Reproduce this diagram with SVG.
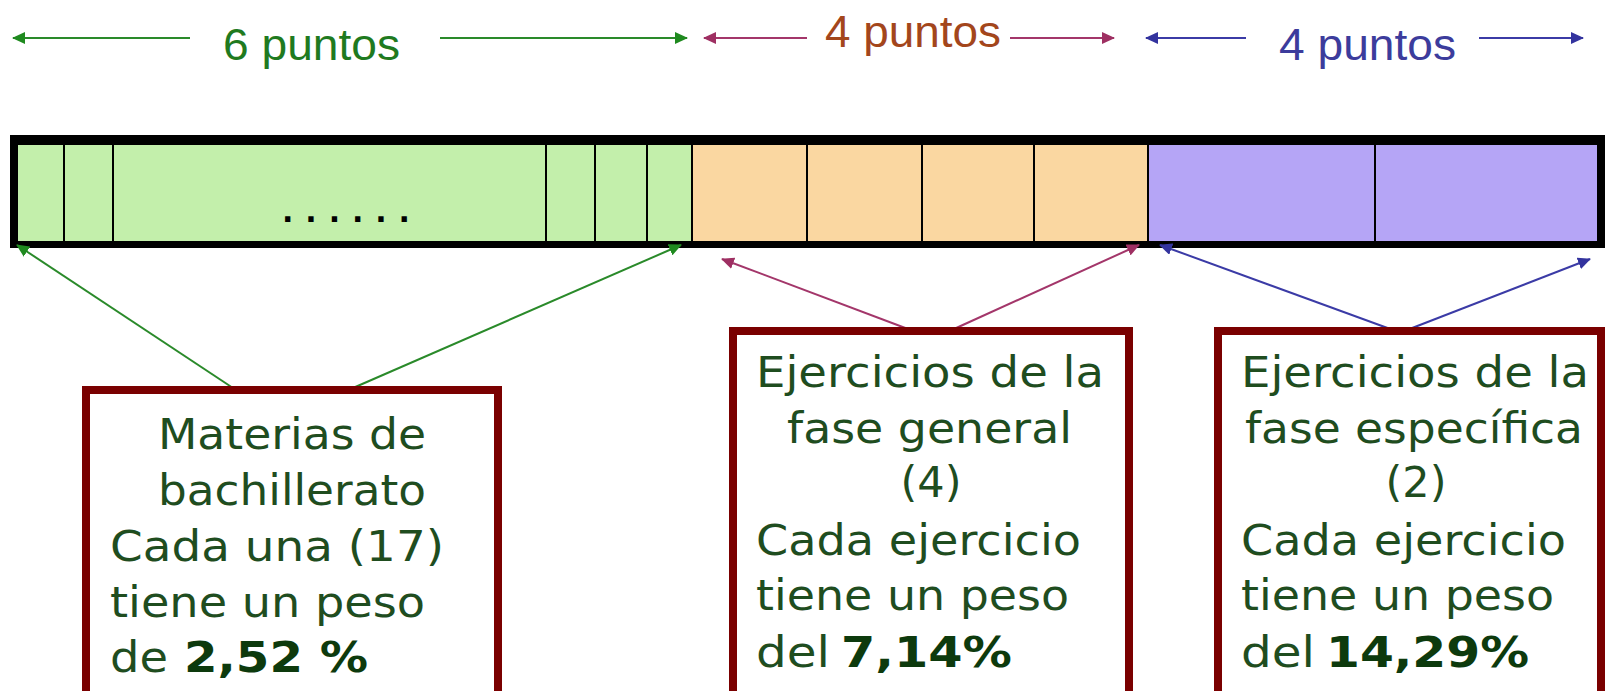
<svg xmlns="http://www.w3.org/2000/svg" width="1605" height="691" viewBox="0 0 1605 691">
<style>
.lbl{font-family:"Liberation Sans",Arial,sans-serif;font-size:45px}
.bx{font-family:"DejaVu Sans",Verdana,sans-serif;font-size:43px;fill:#1f4d1f}
.b{font-weight:bold;fill:#0d3a0d}
.box{fill:#fff;stroke:#7a0000;stroke-width:8}
.div{stroke:#000;stroke-width:2}
.g{stroke:#2a8a2a;stroke-width:2;fill:none}
.m{stroke:#a3366a;stroke-width:2;fill:none}
.bl{stroke:#3b3ba6;stroke-width:2;fill:none}
</style>
<defs>
<marker id="ag" markerUnits="userSpaceOnUse" markerWidth="14" markerHeight="12" refX="12" refY="6" orient="auto-start-reverse"><path d="M0,0 L13,6 L0,12 z" fill="#1f8a1f"/></marker>
<marker id="am" markerUnits="userSpaceOnUse" markerWidth="14" markerHeight="12" refX="12" refY="6" orient="auto-start-reverse"><path d="M0,0 L13,6 L0,12 z" fill="#9e2f62"/></marker>
<marker id="ab" markerUnits="userSpaceOnUse" markerWidth="14" markerHeight="12" refX="12" refY="6" orient="auto-start-reverse"><path d="M0,0 L13,6 L0,12 z" fill="#33339e"/></marker>
</defs>
<rect width="1605" height="691" fill="#fff"/>

<g id="bar">
<rect x="10" y="135" width="1600" height="113" fill="#000"/>
<rect x="18" y="145" width="674" height="96" fill="#c3efab"/>
<rect x="693" y="145" width="455" height="96" fill="#fad7a1"/>
<rect x="1149" y="145" width="448" height="96" fill="#b5a5f6"/>
<g class="div">
<line x1="64" y1="145" x2="64" y2="241"/><line x1="113" y1="145" x2="113" y2="241"/>
<line x1="546" y1="145" x2="546" y2="241"/><line x1="595" y1="145" x2="595" y2="241"/>
<line x1="647" y1="145" x2="647" y2="241"/><line x1="692" y1="145" x2="692" y2="241"/>
<line x1="807" y1="145" x2="807" y2="241"/><line x1="922" y1="145" x2="922" y2="241"/>
<line x1="1034" y1="145" x2="1034" y2="241"/><line x1="1148" y1="145" x2="1148" y2="241"/>
<line x1="1375" y1="145" x2="1375" y2="241"/>
</g>
<text x="282" y="222" font-family="DejaVu Sans,sans-serif" font-weight="bold" font-size="30" textLength="128" lengthAdjust="spacing">......</text>
</g>

<g id="top-labels">
<text class="lbl" x="223" y="60" fill="#1f7a1f" textLength="177" lengthAdjust="spacingAndGlyphs">6 puntos</text>
<text class="lbl" x="825" y="47" fill="#a3461c" textLength="176" lengthAdjust="spacingAndGlyphs">4 puntos</text>
<text class="lbl" x="1279" y="60" fill="#3c3c9c" textLength="177" lengthAdjust="spacingAndGlyphs">4 puntos</text>
</g>

<g id="connectors">
<line class="g" x1="190" y1="38" x2="13" y2="38" marker-end="url(#ag)"/>
<line class="g" x1="440" y1="38" x2="687" y2="38" marker-end="url(#ag)"/>
<line class="m" x1="807" y1="38" x2="704" y2="38" marker-end="url(#am)"/>
<line class="m" x1="1010" y1="38" x2="1114" y2="38" marker-end="url(#am)"/>
<line class="bl" x1="1246" y1="38" x2="1146" y2="38" marker-end="url(#ab)"/>
<line class="bl" x1="1479" y1="38" x2="1583" y2="38" marker-end="url(#ab)"/>

<line class="g" x1="233" y1="388" x2="17" y2="245" marker-end="url(#ag)"/>
<line class="g" x1="353" y1="388" x2="681" y2="245" marker-end="url(#ag)"/>
<line class="m" x1="908" y1="329" x2="722" y2="259" marker-end="url(#am)"/>
<line class="m" x1="954" y1="329" x2="1139" y2="245" marker-end="url(#am)"/>
<line class="bl" x1="1393" y1="330" x2="1160" y2="245" marker-end="url(#ab)"/>
<line class="bl" x1="1407" y1="330" x2="1590" y2="259" marker-end="url(#ab)"/>
</g>

<g id="box-bachillerato">
<rect class="box" x="86" y="390" width="412" height="320"/>
<text class="bx" x="158" y="449" textLength="268" lengthAdjust="spacingAndGlyphs">Materias de</text>
<text class="bx" x="158" y="505" textLength="268" lengthAdjust="spacingAndGlyphs">bachillerato</text>
<text class="bx" x="110" y="561" textLength="334" lengthAdjust="spacingAndGlyphs">Cada una (17)</text>
<text class="bx" x="110" y="617" textLength="315" lengthAdjust="spacingAndGlyphs">tiene un peso</text>
<text class="bx" y="672"><tspan x="110" textLength="58" lengthAdjust="spacingAndGlyphs">de</tspan><tspan class="b" x="184" textLength="184" lengthAdjust="spacingAndGlyphs">2,52 %</tspan></text>
</g>

<g id="box-general">
<rect class="box" x="733" y="331" width="396" height="380"/>
<text class="bx" x="756" y="387" textLength="348" lengthAdjust="spacingAndGlyphs">Ejercicios de la</text>
<text class="bx" x="787" y="443" textLength="285" lengthAdjust="spacingAndGlyphs">fase general</text>
<text class="bx" x="931" y="497" text-anchor="middle">(4)</text>
<text class="bx" x="756" y="555" textLength="325" lengthAdjust="spacingAndGlyphs">Cada ejercicio</text>
<text class="bx" x="756" y="610" textLength="313" lengthAdjust="spacingAndGlyphs">tiene un peso</text>
<text class="bx" y="667"><tspan x="756" textLength="74" lengthAdjust="spacingAndGlyphs">del</tspan><tspan class="b" x="841" textLength="171" lengthAdjust="spacingAndGlyphs">7,14%</tspan></text>
</g>

<g id="box-especifica">
<rect class="box" x="1218" y="331" width="383" height="380"/>
<text class="bx" x="1241" y="387" textLength="348" lengthAdjust="spacingAndGlyphs">Ejercicios de la</text>
<text class="bx" x="1245" y="443" textLength="338" lengthAdjust="spacingAndGlyphs">fase específica</text>
<text class="bx" x="1416" y="497" text-anchor="middle">(2)</text>
<text class="bx" x="1241" y="555" textLength="325" lengthAdjust="spacingAndGlyphs">Cada ejercicio</text>
<text class="bx" x="1241" y="610" textLength="313" lengthAdjust="spacingAndGlyphs">tiene un peso</text>
<text class="bx" y="667"><tspan x="1241" textLength="74" lengthAdjust="spacingAndGlyphs">del</tspan><tspan class="b" x="1326" textLength="203" lengthAdjust="spacingAndGlyphs">14,29%</tspan></text>
</g>
</svg>
